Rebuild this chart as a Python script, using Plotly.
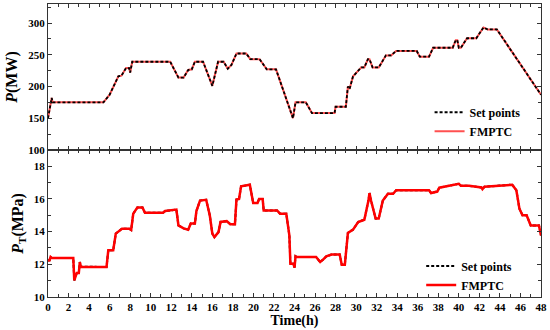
import plotly.graph_objects as go
from plotly.subplots import make_subplots

# Top panel: power (MW)
p_time = [0, 0.36, 0.45, 5.4, 6.0, 6.85, 7.15, 7.6, 7.9, 8.0, 8.2, 11.9, 12.7, 13.2, 13.65, 14.0,
          14.3, 15.1, 16.0, 16.56, 17.1, 17.5, 17.86, 18.35, 19.3, 19.7, 20.6, 21.3, 22.2, 23.85,
          24.1, 25.1, 25.7, 27.9, 28.0, 29.0, 29.2, 29.36, 29.7, 30.1, 30.5, 30.8, 31.15, 31.3,
          31.6, 32.2, 32.9, 33.4, 33.9, 35.9, 36.2, 37.1, 37.5, 39.4, 39.7, 39.85, 40.0, 40.2,
          40.8, 41.7, 42.4, 42.8, 43.7, 48]
p_set = [150, 182, 175, 175, 187, 216, 217, 229, 229, 222, 239, 239, 214, 214, 226, 227,
         239, 239, 201, 239, 239, 228, 234, 252, 252, 243, 243, 227, 227, 150,
         175, 175, 158, 158, 168, 168, 200, 196, 216, 223, 230, 230, 243, 243,
         230, 230, 249, 249, 256, 256, 247, 247, 261, 261, 273, 273, 261, 261,
         276, 276, 293, 290, 290, 187]
p_fmptc = list(p_set)

# Bottom panel: main steam pressure (MPa)
pt_time = [0, 0.15, 0.25, 0.35, 2.46, 2.56, 2.8, 3.0, 3.1, 3.2, 5.7, 5.87, 6.35, 6.6, 7.2, 7.9,
           8.1, 8.3, 8.7, 9.2, 9.44, 11.2, 11.4, 12.0, 12.5, 12.7, 13.2, 13.65, 13.9, 14.3, 14.45,
           14.8, 15.4, 15.75, 16.0, 16.2, 16.6, 16.8, 17.4, 17.75, 18.2, 18.35, 18.6, 18.8, 19.65,
           19.98, 20.4, 20.55, 20.9, 21.0, 22.3, 22.6, 23.2, 23.5, 23.6, 23.9, 24.0, 24.1, 24.2,
           26.1, 26.5, 26.8, 27.1, 27.6, 28.4, 28.6, 28.9, 29.2, 29.7, 30.2, 30.8, 31.2, 31.3,
           31.45, 31.9, 32.2, 32.6, 33.1, 33.6, 33.9, 37.1, 37.3, 37.9, 38.1, 40.0, 40.2, 41.0,
           42.2, 42.3, 42.5, 44.3, 45.2, 45.6, 45.9, 46.2, 46.6, 47.0, 47.8, 48.0]
pt_set = [12.24, 12.25, 12.45, 12.39, 12.39, 11.02, 11.47, 11.47, 12.14, 11.85, 11.84, 12.86, 12.86,
          13.88, 14.18, 14.18, 14.1, 15.1, 15.47, 15.47, 15.16, 15.16, 15.26, 15.3, 15.35, 14.38,
          14.2, 14.12, 14.49, 14.49, 15.26, 15.9, 15.95, 15.0, 13.88, 13.67, 13.97, 14.59, 14.64,
          14.45, 14.45, 15.96, 16.0, 16.77, 16.87, 15.75, 15.75, 16.0, 16.0, 15.3, 15.3, 15.1,
          15.1, 13.77, 12.04, 12.04, 11.8, 12.49, 12.45, 12.45, 12.14, 12.3, 12.49, 12.6, 12.6,
          11.98, 11.98, 13.92, 14.12, 14.59, 14.73, 15.9, 16.36, 15.9, 14.8, 14.8, 15.9, 16.32,
          16.32, 16.53, 16.53, 16.36, 16.45, 16.69, 16.93, 16.8, 16.8, 16.7, 16.6, 16.75, 16.8,
          16.87, 16.53, 15.4, 15.0, 15.0, 14.38, 14.38, 13.77]
pt_fmptc = list(pt_set)

x_ticks = list(range(0, 49, 2))

FONT = "Liberation Serif"

fig = make_subplots(rows=2, cols=1, shared_xaxes=True, vertical_spacing=0)

fig.add_trace(go.Scatter(x=p_time, y=p_fmptc, mode="lines", name="FMPTC",
                         line=dict(color="#ff5050", width=2), legend="legend", legendrank=2),
              row=1, col=1)
fig.add_trace(go.Scatter(x=p_time, y=p_set, mode="lines", name="Set points",
                         line=dict(color="black", width=1.8, dash="3px,2px"), legend="legend", legendrank=1),
              row=1, col=1)
fig.add_trace(go.Scatter(x=pt_time, y=pt_set, mode="lines", name="Set points",
                         line=dict(color="black", width=2, dash="3px,2px"), legend="legend2", legendrank=1),
              row=2, col=1)
fig.add_trace(go.Scatter(x=pt_time, y=pt_fmptc, mode="lines", name="FMPTC",
                         line=dict(color="#ff0000", width=2.5), legend="legend2", legendrank=2),
              row=2, col=1)

axis_common = dict(showline=True, linecolor="#333", linewidth=1.2, mirror="ticks",
                   ticks="inside", ticklen=4, tickcolor="#333", showgrid=False, zeroline=False,
                   automargin=False,
                   tickfont=dict(family=FONT, size=11, color="black", weight="bold"))

fig.update_xaxes(**axis_common, range=[0, 48], tickvals=x_ticks,
                 minor=dict(ticks="inside", dtick=1, ticklen=3, tickcolor="#333"))
fig.update_xaxes(showticklabels=False, row=1, col=1)
fig.update_xaxes(title=dict(text="Time(h)", font=dict(family=FONT, size=14, color="black", weight="bold"),
                            standoff=0), row=2, col=1)

fig.update_yaxes(**axis_common)
fig.update_yaxes(range=[100, 330], dtick=50, tick0=100,
                 minor=dict(ticks="inside", dtick=25, ticklen=3, tickcolor="#333"),
                 title=dict(text="<i>P</i>(MW)", font=dict(family=FONT, size=16, color="black", weight="bold"),
                            standoff=6),
                 row=1, col=1)
fig.update_yaxes(range=[10, 19], dtick=2, tick0=10,
                 minor=dict(ticks="inside", dtick=1, ticklen=3, tickcolor="#333"),
                 title=dict(text="<i>P</i><sub>T</sub>(MPa)", font=dict(family=FONT, size=16, color="black", weight="bold"),
                            standoff=6),
                 row=2, col=1)

fig.update_layout(
    width=550, height=330,
    margin=dict(l=48, r=9, t=4, b=33),
    plot_bgcolor="white", paper_bgcolor="white",
    showlegend=True,
    legend=dict(x=0.774, y=0.68, xanchor="left", yanchor="top", bgcolor="rgba(0,0,0,0)",
                font=dict(family=FONT, size=12, color="black", weight="bold"),
                itemwidth=30, tracegroupgap=0),
    legend2=dict(x=0.757, y=0.155, xanchor="left", yanchor="top", bgcolor="rgba(0,0,0,0)",
                 font=dict(family=FONT, size=12, color="black", weight="bold"),
                 itemwidth=30, tracegroupgap=0),
)
fig.update_yaxes(domain=[0.502, 1.0], row=1, col=1)
fig.update_yaxes(domain=[0.0, 0.502], row=2, col=1)

fig.write_html("out.html", config={"displayModeBar": False},
               post_script="document.body.style.margin='0';document.body.style.overflow='hidden';")
